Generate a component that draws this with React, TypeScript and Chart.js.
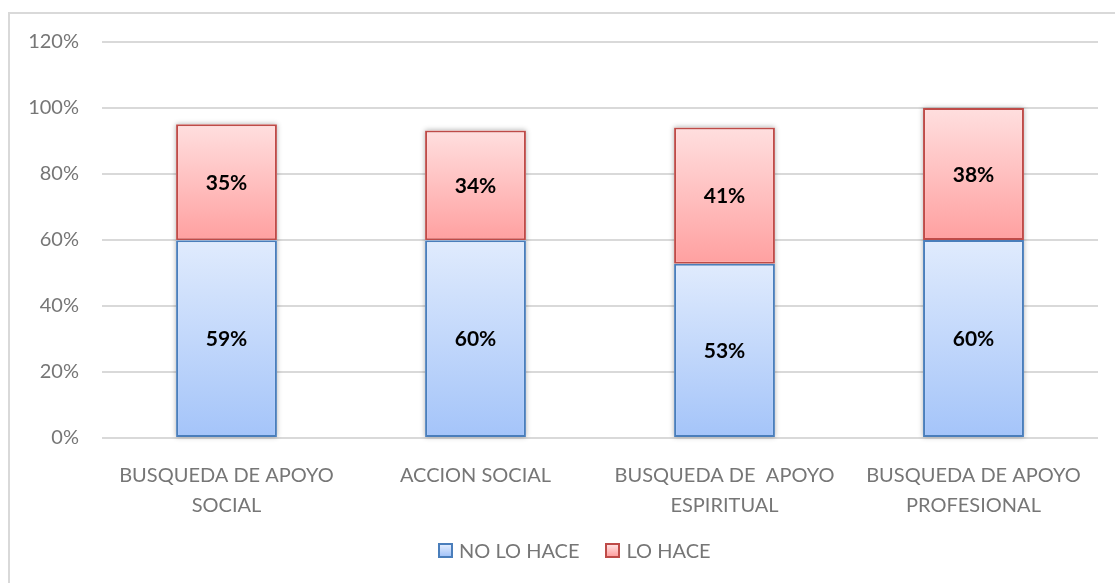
import React, { useEffect, useRef } from "react";
import { Chart, registerables } from "chart.js";

Chart.register(...registerables);

// ---- data ----
const categories: string[][] = [
  ["BUSQUEDA DE APOYO", "SOCIAL"],
  ["ACCION SOCIAL"],
  ["BUSQUEDA DE  APOYO", "ESPIRITUAL"],
  ["BUSQUEDA DE APOYO", "PROFESIONAL"],
];
const seriesNames = ["NO LO HACE", "LO HACE"];
const noLoHace = [59.9, 59.9, 52.8, 60.0];
const loHace = [35.2, 33.3, 41.3, 40.0];
const noLoHaceLabels = ["59%", "60%", "53%", "60%"];
const loHaceLabels = ["35%", "34%", "41%", "38%"];
const yTicks = [0, 20, 40, 60, 80, 100, 120];

const FONT = "Lato, 'Liberation Sans', sans-serif";
const GRAY = "#767676";

const blueTop = "#e0ebfd";
const blueBottom = "#a4c4f9";
const blueBorder = "#4a7ebb";
const redTop = "#ffdfdf";
const redBottom = "#ffa0a0";
const redBorder = "#be4b48";

function gradientFor(dsIndex: number, top: string, bottom: string) {
  return (c: any) => {
    const chart = c.chart;
    const y = chart.scales && chart.scales.y;
    if (!chart.chartArea || !y || c.dataIndex === undefined || c.type !== "data") return bottom;
    const i = c.dataIndex;
    const lo = dsIndex === 0 ? 0 : noLoHace[i];
    const hi = lo + (dsIndex === 0 ? noLoHace[i] : loHace[i]);
    const y0 = y.getPixelForValue(hi);
    const y1 = y.getPixelForValue(lo);
    if (!isFinite(y0) || !isFinite(y1)) return bottom;
    const g = chart.ctx.createLinearGradient(0, y0, 0, y1);
    g.addColorStop(0, top);
    g.addColorStop(1, bottom);
    return g;
  };
}

const barDecor = {
  id: "barDecor",
  beforeDatasetsDraw(chart: any) {
    const ctx = chart.ctx;
    const m0 = chart.getDatasetMeta(0);
    const m1 = chart.getDatasetMeta(1);
    ctx.save();
    ctx.shadowColor = "rgba(0,0,0,0.3)";
    ctx.shadowBlur = 5;
    ctx.fillStyle = "#ffffff";
    m0.data.forEach((el: any, i: number) => {
      const top = m1.data[i].y;
      const bottom = el.base;
      const w = el.width;
      ctx.fillRect(el.x - w / 2, top, w, bottom - top);
    });
    ctx.restore();
  },
  afterDatasetsDraw(chart: any) {
    const ctx = chart.ctx;
    const labelSets = [noLoHaceLabels, loHaceLabels];
    ctx.save();
    ctx.font = `bold 21px ${FONT}`;
    ctx.fillStyle = "#000000";
    ctx.textAlign = "center";
    ctx.textBaseline = "middle";
    [0, 1].forEach((d) => {
      const meta = chart.getDatasetMeta(d);
      meta.data.forEach((el: any, i: number) => {
        ctx.fillText(labelSets[d][i], el.x, (el.y + el.base) / 2 + 1);
      });
    });
    ctx.restore();
  },
};

export default function App() {
  const ref = useRef<HTMLCanvasElement | null>(null);

  useEffect(() => {
    document.body.style.margin = "0";
    if (!ref.current) return;
    const chart = new Chart(ref.current, {
      type: "bar",
      data: {
        labels: categories,
        datasets: [
          {
            label: seriesNames[0],
            data: noLoHace,
            backgroundColor: gradientFor(0, blueTop, blueBottom),
            borderColor: blueBorder,
            borderWidth: 2,
            borderSkipped: false,
          },
          {
            label: seriesNames[1],
            data: loHace,
            backgroundColor: gradientFor(1, redTop, redBottom),
            borderColor: redBorder,
            borderWidth: 2,
            borderSkipped: false,
          },
        ],
      },
      options: {
        animation: false,
        responsive: false,
        maintainAspectRatio: false,
        devicePixelRatio: 1,
        layout: { padding: { top: 42, right: 17, left: 0, bottom: 0 } },
        datasets: { bar: { barPercentage: 0.405, categoryPercentage: 1 } },
        plugins: {
          legend: { display: false },
          tooltip: { enabled: false },
        },
        scales: {
          x: {
            stacked: true,
            grid: { display: false },
            border: { display: false },
            ticks: {
              color: GRAY,
              font: { family: FONT, size: 20, lineHeight: 1.5 },
              padding: 15,
              maxRotation: 0,
              autoSkip: false,
            },
            afterFit(scale: any) {
              scale.height = 145;
            },
          },
          y: {
            stacked: true,
            min: 0,
            max: 120,
            afterBuildTicks(scale: any) {
              scale.ticks = yTicks.map((v) => ({ value: v }));
            },
            grid: { color: "#d9d9d9", lineWidth: 2, drawTicks: false },
            border: { display: false },
            ticks: {
              color: GRAY,
              font: { family: FONT, size: 20 },
              padding: 23,
              callback: (v: any) => `${v}%`,
            },
            afterFit(scale: any) {
              scale.width = 102;
            },
          },
        },
      },
      plugins: [barDecor],
    });
    return () => chart.destroy();
  }, []);

  const legendItem = (name: string, bg: string, border: string) => (
    <div style={{ display: "flex", alignItems: "center" }}>
      <div
        style={{
          width: 11,
          height: 11,
          border: `2px solid ${border}`,
          background: bg,
          marginRight: 6,
        }}
      />
      <span style={{ fontFamily: FONT, fontSize: 20, color: GRAY, lineHeight: "24px" }}>{name}</span>
    </div>
  );

  return (
    <div style={{ position: "relative", width: 1115, height: 583, overflow: "hidden", background: "#fff" }}>
      <div
        style={{
          position: "absolute",
          left: 8,
          top: 12,
          width: 1120,
          height: 600,
          borderTop: "2px solid #d9d9d9",
          borderLeft: "2px solid #d9d9d9",
        }}
      />
      <canvas ref={ref} width={1115} height={583} style={{ position: "absolute", left: 0, top: 0, width: 1115, height: 583 }} />
      <div style={{ position: "absolute", left: 438, top: 538, display: "flex", gap: 26 }}>
        {legendItem(seriesNames[0], `linear-gradient(${blueTop}, ${blueBottom})`, blueBorder)}
        {legendItem(seriesNames[1], `linear-gradient(${redTop}, ${redBottom})`, redBorder)}
      </div>
    </div>
  );
}
